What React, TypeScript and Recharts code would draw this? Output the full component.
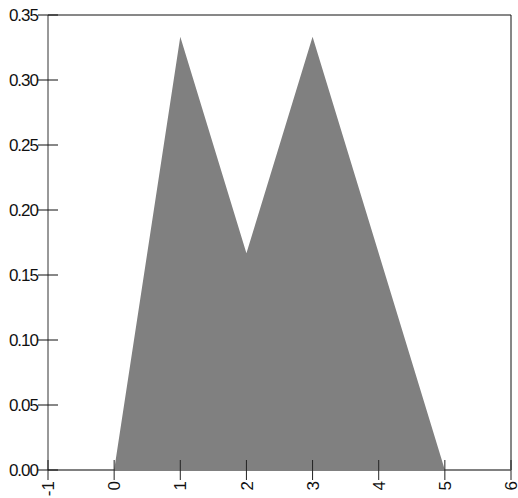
import React from "react";
import {
  Area,
  AreaChart,
  ReferenceLine,
  XAxis,
  YAxis,
} from "recharts";

const xValues = [0, 1, 2, 3, 4, 5];
const yValues = [0, 0.3333, 0.1667, 0.3333, 0.1667, 0];
const xTicks = [-1, 0, 1, 2, 3, 4, 5, 6];
const yTicks = [0, 0.05, 0.1, 0.15, 0.2, 0.25, 0.3, 0.35];

const data = xValues.map((x, i) => ({ x, y: yValues[i] }));

const FONT = "'Liberation Sans', Arial, sans-serif";

// y tick: line crossing the axis, label to the left
const YTick = (props: any) => {
  const { x, y, payload } = props;
  return (
    <g>
      <line x1={x - 10} x2={x + 10} y1={y} y2={y} stroke="#111" strokeWidth={1} />
      <text
        x={x - 10}
        y={y}
        dy="0.36em"
        textAnchor="end"
        fontFamily={FONT}
        fontSize={17}
        letterSpacing={-1}
        fill="#111"
      >
        {payload.value.toFixed(2)}
      </text>
    </g>
  );
};

// x tick: line crossing the axis, label rotated -90 below
const XTick = (props: any) => {
  const { x, y, payload } = props;
  const ty = y + 11;
  return (
    <g>
      <line x1={x} x2={x} y1={y - 10} y2={y + 10} stroke="#222" strokeWidth={1} />
      <text
        x={x}
        y={ty}
        dy="0.36em"
        textAnchor="end"
        transform={`rotate(-90 ${x} ${ty})`}
        fontFamily={FONT}
        fontSize={17}
        fill="#111"
      >
        {payload.value}
      </text>
    </g>
  );
};

export default function App() {
  return (
    <div style={{ position: "absolute", left: 0, top: 0 }}>
      <AreaChart
        width={518}
        height={498}
        data={data}
        margin={{ top: 15, right: 7, bottom: 0, left: 0 }}
      >
        <Area
          dataKey="y"
          type="linear"
          stroke="none"
          fill="#808080"
          fillOpacity={1}
          dot={false}
          activeDot={false}
          isAnimationActive={false}
        />
        <ReferenceLine y={0.35} stroke="#111" strokeWidth={1} />
        <ReferenceLine x={6} stroke="#111" strokeWidth={1} />
        <XAxis
          dataKey="x"
          type="number"
          domain={[-1, 6]}
          ticks={xTicks}
          interval={0}
          height={28}
          tickSize={0}
          tickMargin={0}
          tickLine={false}
          axisLine={{ stroke: "#808080", strokeWidth: 2 }}
          tick={<XTick />}
        />
        <YAxis
          type="number"
          domain={[0, 0.35]}
          ticks={yTicks}
          interval={0}
          width={48}
          tickSize={0}
          tickMargin={0}
          tickLine={false}
          axisLine={{ stroke: "#333", strokeWidth: 1 }}
          tick={<YTick />}
        />
      </AreaChart>
    </div>
  );
}
